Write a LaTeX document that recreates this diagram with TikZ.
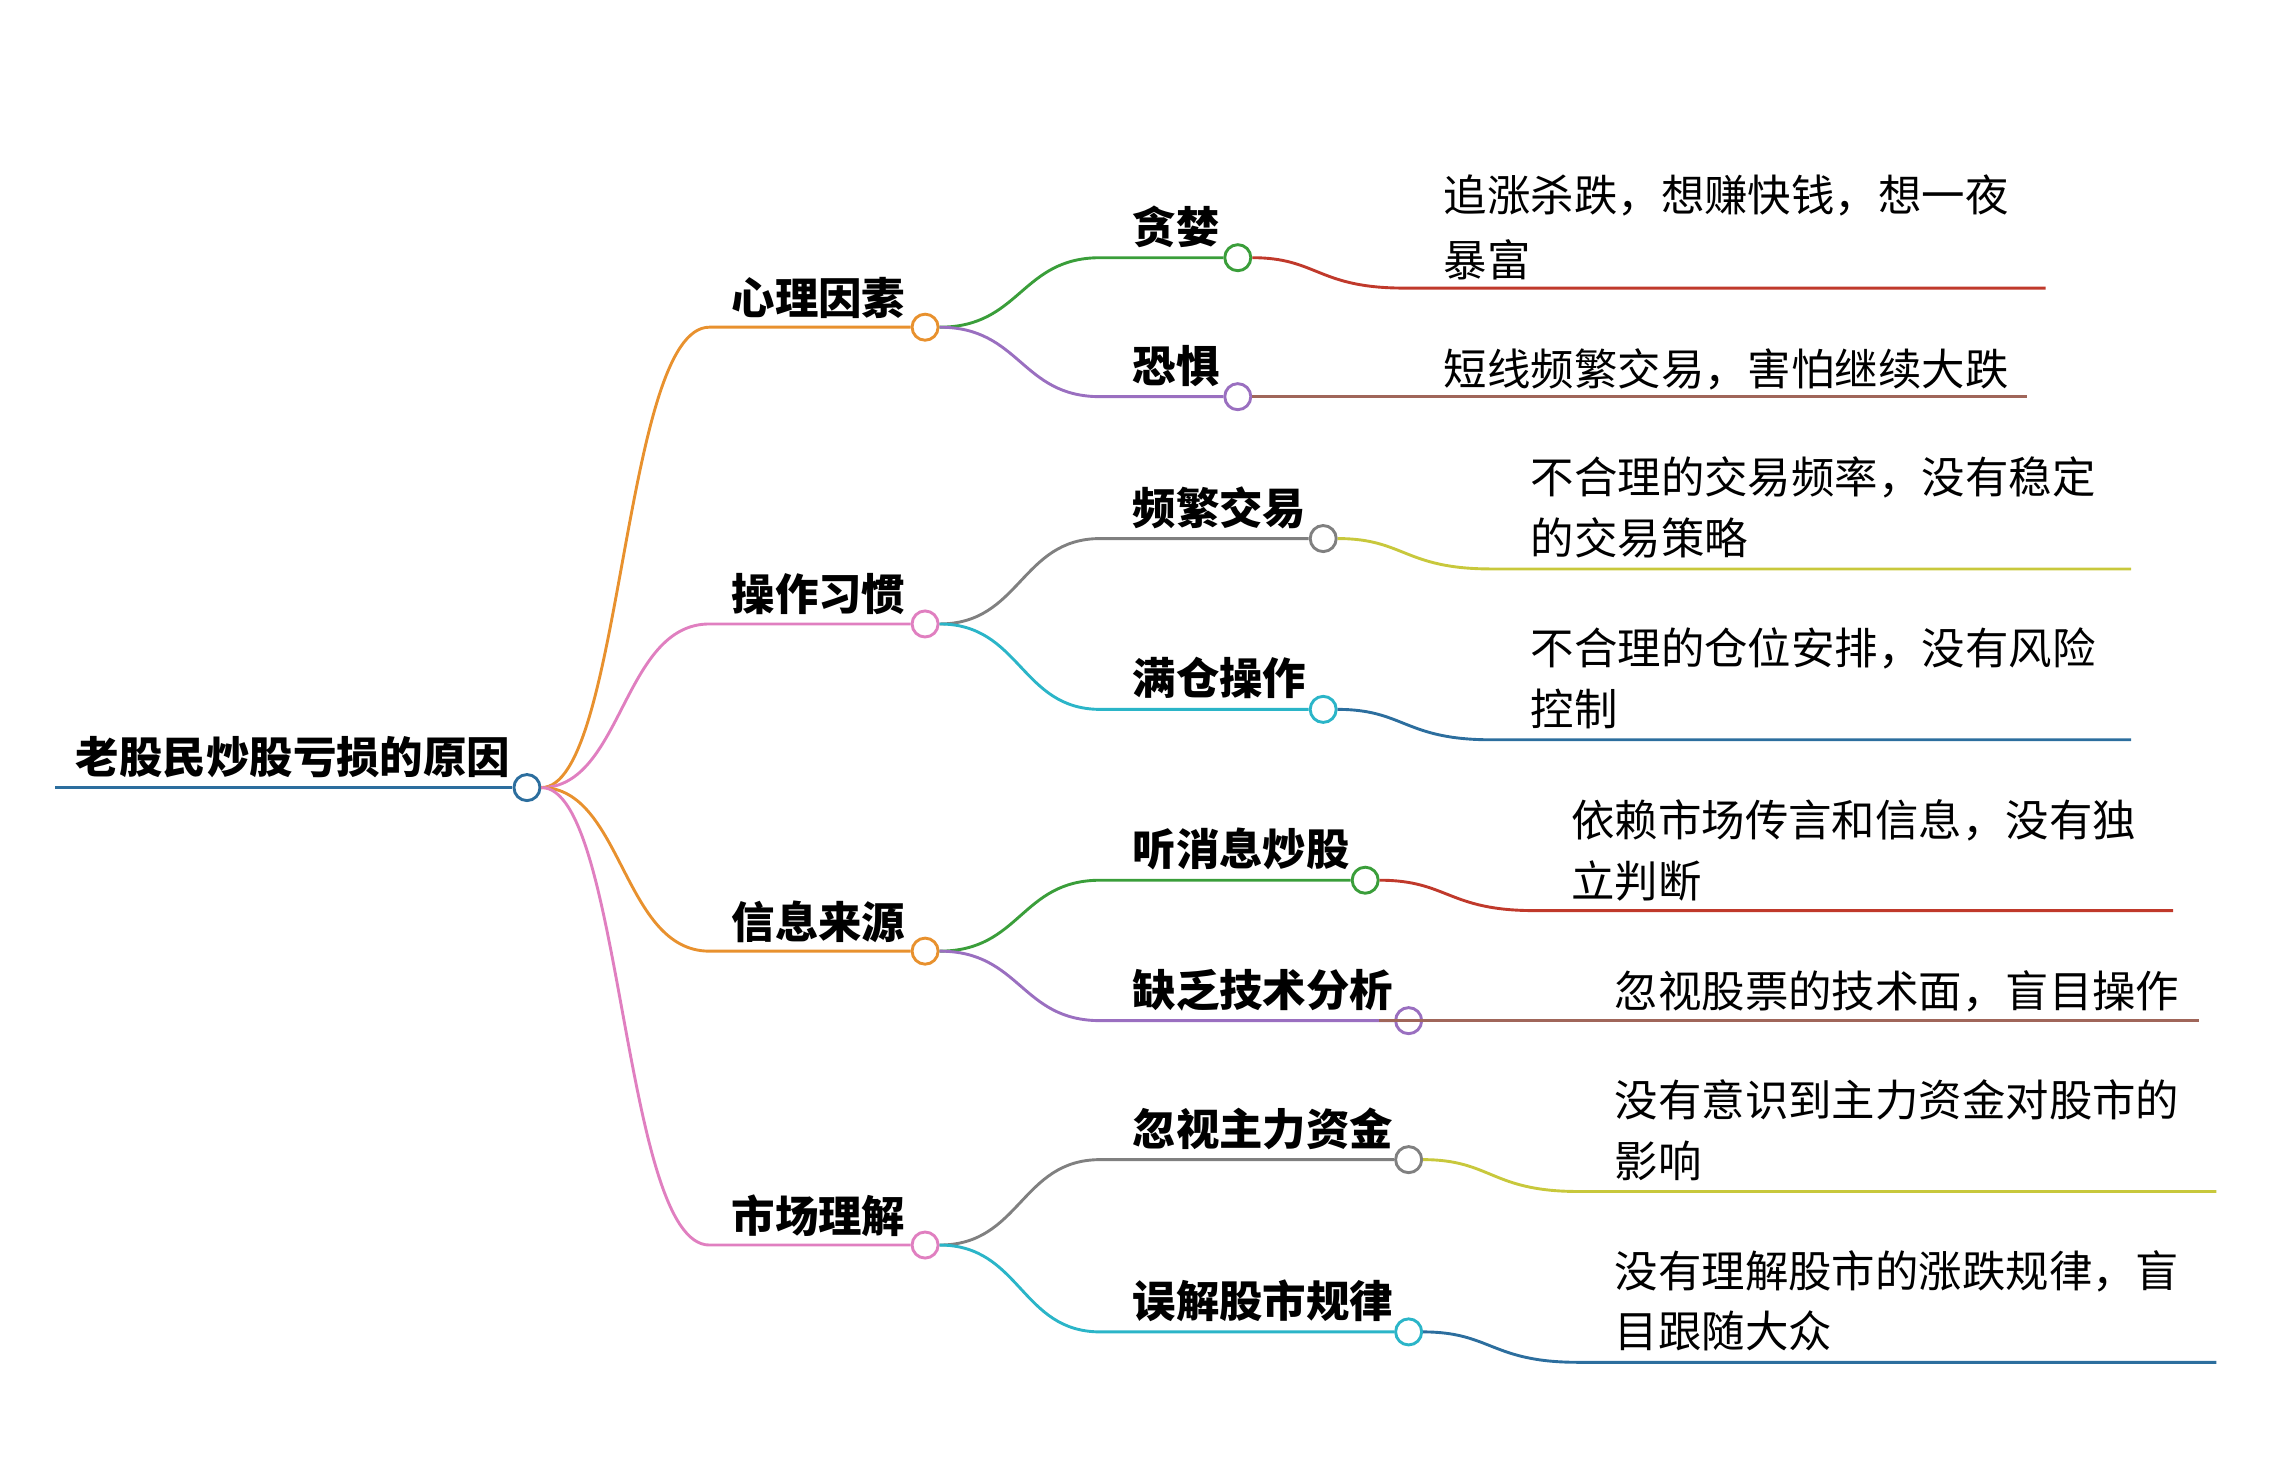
\documentclass[tikz,border=0pt]{standalone}
\usepackage{fontspec}
\setmainfont{Noto Sans CJK SC}
\begin{document}
\begin{tikzpicture}[x=0.5pt,y=-0.5pt,
  dot/.style={circle,draw,fill=white,line width=1pt,minimum size=9pt,inner sep=0pt},
  ln/.style={line width=1pt},
  lab/.style={anchor=base west,inner sep=0pt,font=\fontsize{15pt}{18pt}\selectfont\bfseries},
  leaf/.style={anchor=base west,inner sep=0pt,font=\fontsize{15pt}{18pt}\selectfont}]
\definecolor{cor}{HTML}{E8912E}\definecolor{cpk}{HTML}{E07FC0}
\definecolor{cgr}{HTML}{3A9E3A}\definecolor{cpu}{HTML}{9A6FC0}
\definecolor{cgy}{HTML}{808080}\definecolor{ccy}{HTML}{2BB5C8}
\definecolor{crd}{HTML}{C0392B}\definecolor{cbr}{HTML}{A0665A}
\definecolor{col}{HTML}{C8C83C}\definecolor{cbl}{HTML}{2C6E9E}
\useasboundingbox (0,0) rectangle (1568,1007);
% root
\coordinate (r0) at (38,544);
\node[dot,draw=cbl] (r) at (364,544) {};
\draw[ln,cbl] (r0) -- (r.west);
\node[lab] (rt) at (52,534) {老股民炒股亏损的原因};
% level 1
\foreach \n/\y/\c/\t in {a/226/cor/心理因素,b/431/cpk/操作习惯,c/657/cor/信息来源,d/860/cpk/市场理解}{
  \coordinate (\n s) at (490,\y);
  \node[dot,draw=\c] (\n) at (639,\y) {};
  \draw[ln,\c] (r.east) .. controls (430,544) and (430,\y) .. (\n s) -- (\n.west);
  \node[lab] (\n t) at (505,\y-9) {\t};
}
% level 2
\foreach \p/\py/\n/\x/\y/\c/\t in {a/226/a1/855/178/cgr/贪婪,a/226/a2/855/274/cpu/恐惧,b/431/b1/914/372/cgy/频繁交易,b/431/b2/914/490/ccy/满仓操作,c/657/c1/943/608/cgr/听消息炒股,c/657/c2/973/705/cpu/缺乏技术分析,d/860/d1/973/801/cgy/忽视主力资金,d/860/d2/973/920/ccy/误解股市规律}{
  \coordinate (\n s) at (760,\y);
  \node[dot,draw=\c] (\n) at (\x,\y) {};
  \draw[ln,\c] (\p.east) .. controls (705,\py) and (705,\y) .. (\n s) -- (\n.west);
  \node[lab] (\n t) at (782,\y-10) {\t};
}
% leaves
\foreach \n/\ys/\xs/\y/\xe/\c in {a1/178/970/199/1413/crd,a2/274/960/274/1400/cbr,b1/372/1030/393/1472/col,b2/490/1030/511/1472/cbl,c1/608/1060/629/1501/crd,c2/705/1000/705/1519/cbr,d1/801/1090/823/1531/col,d2/920/1090/941/1531/cbl}{
  \coordinate (\n m) at (\xs,\y);
  \coordinate (\n e) at (\xe,\y);
  \draw[ln,\c] (\n.east) .. controls (\xs-60,\ys) and (\xs-60,\y) .. (\n m) -- (\n e);
}
\node[leaf] (a1x) at (997,146) {追涨杀跌，想赚快钱，想一夜};
\node[leaf] (a1y) at (997,191) {暴富};
\node[leaf] (a2x) at (997,266) {短线频繁交易，害怕继续大跌};
\node[leaf] (b1x) at (1057,341) {不合理的交易频率，没有稳定};
\node[leaf] (b1y) at (1057,383) {的交易策略};
\node[leaf] (b2x) at (1057,459) {不合理的仓位安排，没有风险};
\node[leaf] (b2y) at (1057,501) {控制};
\node[leaf] (c1x) at (1085,578) {依赖市场传言和信息，没有独};
\node[leaf] (c1y) at (1085,620) {立判断};
\node[leaf] (c2x) at (1115,696) {忽视股票的技术面，盲目操作};
\node[leaf] (d1x) at (1115,771) {没有意识到主力资金对股市的};
\node[leaf] (d1y) at (1115,813) {影响};
\node[leaf] (d2x) at (1115,889) {没有理解股市的涨跌规律，盲};
\node[leaf] (d2y) at (1115,931) {目跟随大众};
\end{tikzpicture}
\end{document}
